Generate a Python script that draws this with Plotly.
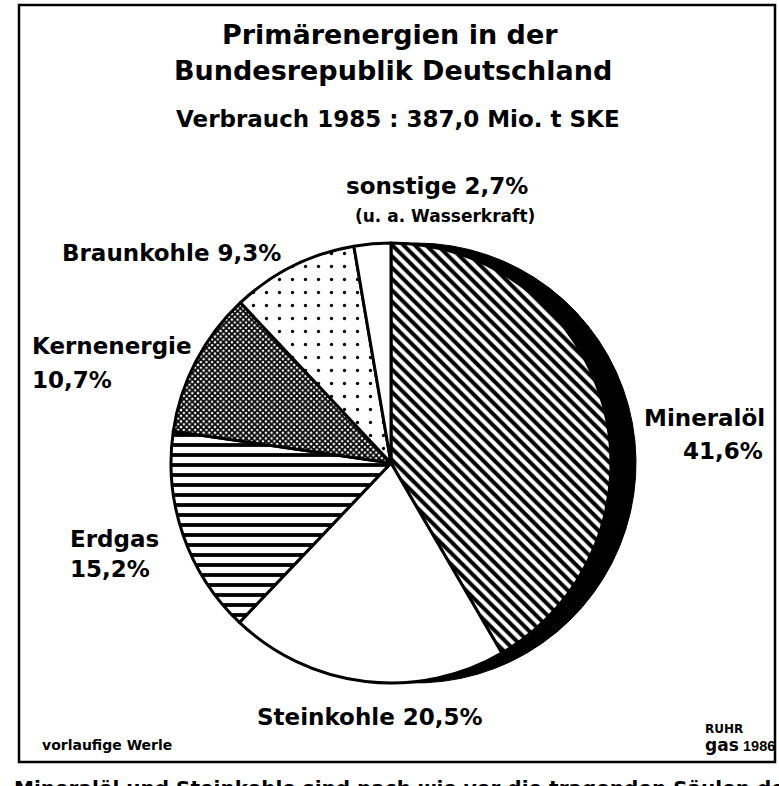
import plotly.graph_objects as go

# ---- data ----
categories = ["Mineralöl", "Steinkohle", "Erdgas", "Kernenergie", "Braunkohle", "sonstige"]
shares = [41.6, 20.5, 15.2, 10.7, 9.3, 2.7]
share_labels = ["41,6%", "20,5%", "15,2%", "10,7%", "9,3%", "2,7%"]
patterns = ["\\", "", "-", "x", ".", ""]
pattern_sizes = [8, 8, 10, 4, 13, 8]
pattern_solidity = [0.5, 0.3, 0.38, 0.7, 0.05, 0.3]

title_lines = ["Primärenergien in der", "Bundesrepublik Deutschland"]
subtitle = "Verbrauch 1985 : 387,0 Mio. t SKE"

W, H = 779, 786
FONT = "DejaVu Sans"


def px(x):
    return x / W


def py(y):
    return 1 - y / H


cx, cy, r = 391, 463, 220
dom_x = [px(cx - r), px(cx + r)]
dom_y = [py(cy + r), py(cy - r)]
shift = 25

fig = go.Figure()

# black shadow disc behind the pie (visible as a crescent on the right)
fig.add_trace(go.Pie(
    values=shares, labels=categories, sort=False, direction="clockwise", rotation=0,
    textinfo="none", hoverinfo="skip", showlegend=False,
    marker=dict(colors=["black"] * len(shares), line=dict(color="black", width=1)),
    domain=dict(x=[dom_x[0] + shift / W, dom_x[1] + shift / W], y=dom_y),
))

fig.add_trace(go.Pie(
    values=shares, labels=categories, sort=False, direction="clockwise", rotation=0,
    textinfo="none", showlegend=False,
    marker=dict(
        colors=["white"] * len(shares),
        line=dict(color="black", width=3),
        pattern=dict(shape=patterns, fgcolor="black", bgcolor="white", fgopacity=1,
                     size=pattern_sizes, solidity=pattern_solidity, fillmode="replace"),
    ),
    domain=dict(x=dom_x, y=dom_y),
))

ann = []


def add(text, x, y, size, xanchor="center", yanchor="middle", bold=True, family=FONT):
    ann.append(dict(text=("<b>%s</b>" % text) if bold else text, x=px(x), y=py(y),
                    xref="paper", yref="paper", xanchor=xanchor, yanchor=yanchor,
                    showarrow=False, font=dict(family=family, size=size, color="black")))


add(title_lines[0], 390, 35, 27)
add(title_lines[1], 393, 71, 27)
add(subtitle, 398, 119, 23)
add("sonstige " + share_labels[5], 437, 186, 23)
add("(u. a. Wasserkraft)", 445, 216, 17)
add("Braunkohle " + share_labels[4], 171, 253, 23)
add("Kernenergie", 30, 346, 23, xanchor="left")
add(share_labels[3], 30, 380, 23, xanchor="left")
add("Erdgas", 68, 539, 23, xanchor="left")
add(share_labels[2], 68, 569, 23, xanchor="left")
add("Mineralöl", 767, 418, 23, xanchor="right")
add(share_labels[0], 765, 451, 23, xanchor="right")
add("Steinkohle " + share_labels[1], 370, 717, 23)
add("vorlaufige Werle", 40, 745, 14, xanchor="left")
add("RUHR", 703, 729, 12, xanchor="left")
add("gas", 703, 745, 17, xanchor="left")
add("1986", 741, 746, 14.5, xanchor="left", family="Liberation Sans")
add("Mineralöl und Steinkohle sind nach wie vor die tragenden Säulen der", 12, 774, 20,
    xanchor="left", yanchor="top")

fig.update_layout(
    width=W, height=H, margin=dict(l=0, r=0, t=0, b=0),
    paper_bgcolor="white", plot_bgcolor="white",
    annotations=ann,
    shapes=[dict(type="rect", xref="paper", yref="paper",
                 x0=px(19), x1=px(775), y0=py(762), y1=py(5),
                 line=dict(color="black", width=2.5))],
)

fig.write_html("out.html", config={"displayModeBar": False},
               post_script="document.body.style.margin='0';document.body.style.overflow='hidden';")
